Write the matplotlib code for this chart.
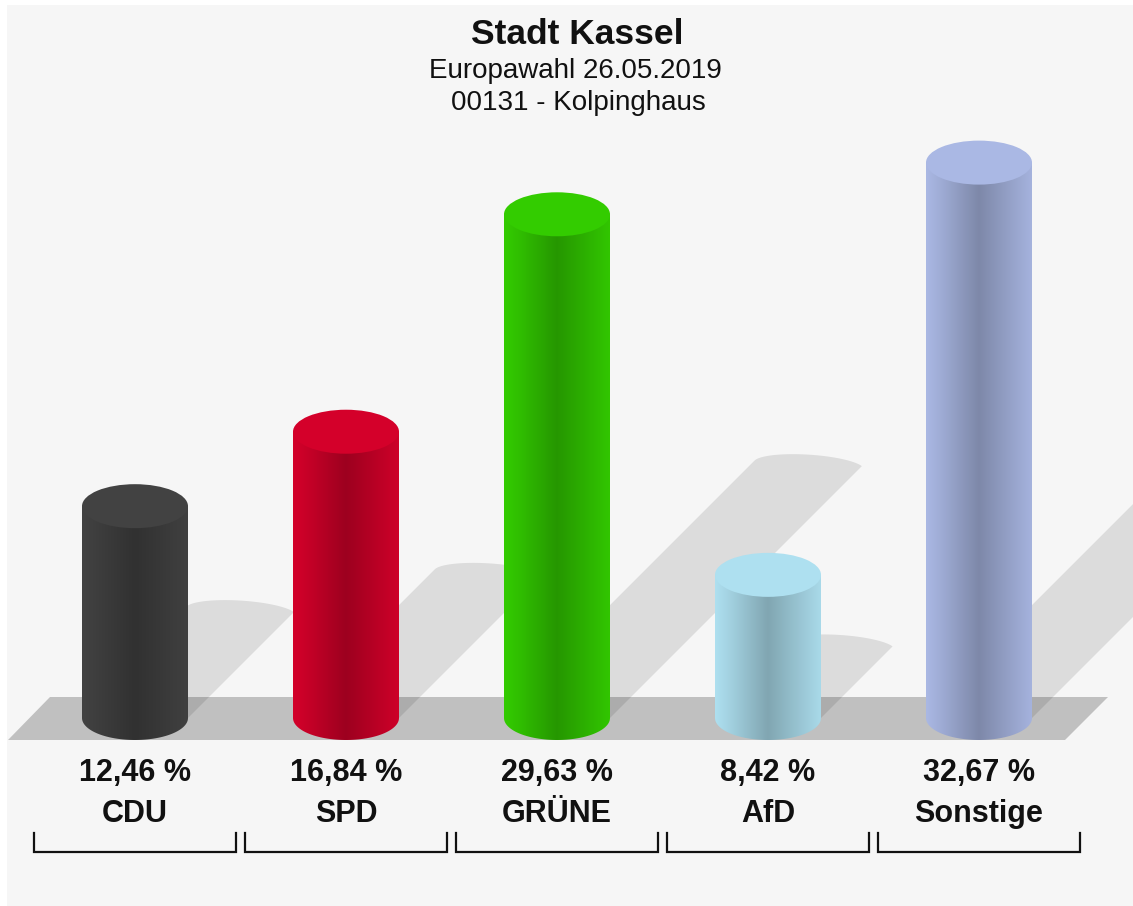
import numpy as np
import matplotlib
matplotlib.use("Agg")
import matplotlib.pyplot as plt
from matplotlib.patches import Ellipse, Polygon, PathPatch, Rectangle
from matplotlib.path import Path
from matplotlib.colors import to_rgb

# ---------------- data ----------------
parties = ["CDU", "SPD", "GRÜNE", "AfD", "Sonstige"]
values = [12.46, 16.84, 29.63, 8.42, 32.67]
value_labels = ["12,46 %", "16,84 %", "29,63 %", "8,42 %", "32,67 %"]
title = "Stadt Kassel"
subtitle1 = "Europawahl 26.05.2019"
subtitle2 = "00131 - Kolpinghaus"

# ---------------- style ----------------
colors = ["#424242", "#d4002a", "#33cc00", "#aee0f0", "#aab8e4"]
FONT = "Liberation Sans"
W, H = 1133, 906
PX_PER_CAT = 211.0      # pixels between category centres
PX_PER_PCT = 17.0       # pixels per percentage point
X0_PX = 135.0           # pixel x of first category
BASE_PX = 718.0         # pixel y (from top) of value 0

fig = plt.figure(figsize=(W / 100, H / 100), dpi=100)
fig.patch.set_facecolor("white")
bg = Rectangle((7 / W, 0), 1, 1 - 5 / H, transform=fig.transFigure,
               facecolor="#f6f6f6", edgecolor="none", zorder=-10)
fig.patches.append(bg)

ax = fig.add_axes([0, 0, 1, 1])
ax.set_zorder(1)
ax.set_facecolor("none")
ax.patch.set_alpha(0)
ax.axis("off")

dx_px = 1 / PX_PER_CAT
dy_px = 1 / PX_PER_PCT
R_PX, RY_PX = 53.0, 22.0
r = R_PX * dx_px
ry = RY_PX * dy_px

# floor
floor = Polygon([((8 - X0_PX) * dx_px, -22 * dy_px),
                 ((50 - X0_PX) * dx_px, 21 * dy_px),
                 ((1108 - X0_PX) * dx_px, 21 * dy_px),
                 ((1065 - X0_PX) * dx_px, -22 * dy_px)],
                closed=True, facecolor="#c0c0c0", edgecolor="none", zorder=1)
ax.add_patch(floor)

theta_dn = np.linspace(np.pi, 2 * np.pi, 60)

# shadows (cast up-right at 45 degrees); shape worked out in pixel offsets
SH_B, SH_SHEAR = 12.0, 0.3
th = np.linspace(np.pi, 0, 200)
arc_x = R_PX * np.cos(th) - SH_SHEAR * R_PX * np.sin(th)
arc_y = SH_B * np.sin(th)
k0 = np.argmax(-arc_x + arc_y)          # tangent point for the 45 deg left edge
arc_x, arc_y = arc_x[k0:], arc_y[k0:]
for i, v in enumerate(values):
    t_px = 0.5 * v * PX_PER_PCT
    ox, oy = t_px + arc_x, t_px + arc_y     # pixel offsets from base centre
    lb = ox[0] - oy[0]                      # left edge x at base level
    xs0 = -R_PX + 4
    ys0 = max(xs0 - lb, 0.0)
    start = (lb + ys0, ys0)
    right_bot = (ox[-1] - oy[-1], 0.0)
    px_pts = np.vstack([[start], np.column_stack([ox, oy]), [right_bot], [0.0, 0.0]])
    pts = np.column_stack([i + px_pts[:, 0] * dx_px, px_pts[:, 1] * dy_px])
    ax.add_patch(Polygon(pts, closed=True, facecolor="black", alpha=0.1,
                         edgecolor="none", zorder=2))

# cylinders
prof_pos = [0.0, 0.15, 0.5, 0.8, 1.0]
prof_fac = [1.0, 0.93, 0.74, 0.88, 0.97]
xs = np.linspace(0, 1, 200)
fac = np.interp(xs, prof_pos, prof_fac)

for i, (v, c) in enumerate(zip(values, colors)):
    base = np.array(to_rgb(c))
    grad = np.clip(fac[:, None] * base[None, :], 0, 1)[None, :, :]
    bottom = np.column_stack([i + r * np.cos(theta_dn), ry * np.sin(theta_dn)])
    body_pts = np.vstack([[i - r, v], bottom, [i + r, v], [i - r, v]])
    body_path = Path(body_pts)
    clip = PathPatch(body_path, facecolor="none", edgecolor="none")
    ax.add_patch(clip)
    im = ax.imshow(grad, extent=[i - r, i + r, -ry, v], aspect="auto",
                   interpolation="bilinear", zorder=3)
    im.set_clip_path(clip)
    cap = Ellipse((i, v), 2 * r, 2 * ry, facecolor=c, edgecolor="none", zorder=4)
    ax.add_patch(cap)

ax.set_xlim(-X0_PX / PX_PER_CAT, (W - X0_PX) / PX_PER_CAT)
ax.set_ylim((BASE_PX - H) / PX_PER_PCT, BASE_PX / PX_PER_PCT)

# labels and brackets
for i, (p, lab) in enumerate(zip(parties, value_labels)):
    ax.text(i, (BASE_PX - 773) * dy_px, lab, ha="center", va="center",
            fontsize=22, fontweight="bold", family=FONT, color="#111111", zorder=5)
    ax.text(i, (BASE_PX - 814) * dy_px, p, ha="center", va="center",
            fontsize=22, fontweight="bold", family=FONT, color="#111111", zorder=5)
    x0, x1 = i - 101 * dx_px, i + 101 * dx_px
    ytop, ybot = (BASE_PX - 833) * dy_px, (BASE_PX - 852) * dy_px
    ax.plot([x0, x0, x1, x1], [ytop, ybot, ybot, ytop], color="#111111",
            lw=1.6, solid_joinstyle="miter", zorder=5)

fig.text(577 / W, 1 - 35 / H, title, ha="center", va="center", fontsize=25.5,
         fontweight="bold", family=FONT, color="#111111")
fig.text(575 / W, 1 - 71 / H, subtitle1, ha="center", va="center", fontsize=20,
         family=FONT, color="#111111")
fig.text(578 / W, 1 - 103 / H, subtitle2, ha="center", va="center", fontsize=20,
         family=FONT, color="#111111")

fig.savefig("out.png", dpi=100, facecolor=fig.get_facecolor())
